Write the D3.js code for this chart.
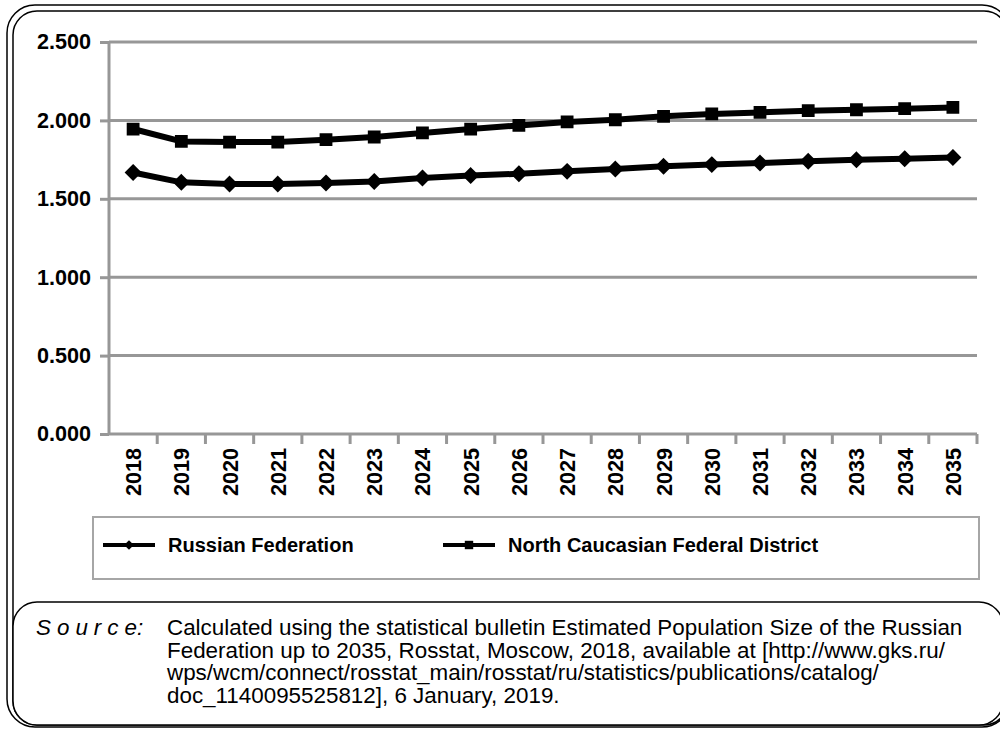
<!DOCTYPE html>
<html>
<head>
<meta charset="utf-8">
<script src="https://cdn.jsdelivr.net/npm/d3@7"></script>
<style>
body { margin: 0; background: #fff; }
svg { display: block; font-family: Arial, "Liberation Sans", sans-serif; }
</style>
</head>
<body>
<svg width="1000" height="729"></svg>
<script>
// chart data
var years = ["2018", "2019", "2020", "2021", "2022", "2023", "2024", "2025", "2026",
             "2027", "2028", "2029", "2030", "2031", "2032", "2033", "2034", "2035"];
var russianFederation = [1.668, 1.605, 1.594, 1.594, 1.601, 1.611, 1.633, 1.648, 1.660,
                         1.675, 1.690, 1.707, 1.718, 1.728, 1.739, 1.749, 1.756, 1.764];
var northCaucasus = [1.945, 1.866, 1.862, 1.862, 1.877, 1.894, 1.920, 1.945, 1.968,
                     1.990, 2.004, 2.026, 2.041, 2.051, 2.062, 2.068, 2.075, 2.083];
var seriesNames = ["Russian Federation", "North Caucasian Federal District"];
var yTicks = [0, 0.5, 1, 1.5, 2, 2.5];
var yTickLabels = ["0.000", "0.500", "1.000", "1.500", "2.000", "2.500"];
var sourceLines = [
  "Calculated using the statistical bulletin Estimated Population Size of the Russian",
  "Federation up to 2035, Rosstat, Moscow, 2018, available at [http://www.gks.ru/",
  "wps/wcm/connect/rosstat_main/rosstat/ru/statistics/publications/catalog/",
  "doc_1140095525812], 6 January, 2019."
];

var svg = d3.select("svg"),
    grid = "#979797",
    margin = {top: 42, right: 23, bottom: 295, left: 109},
    width = +svg.attr("width") - margin.left - margin.right,
    height = +svg.attr("height") - margin.top - margin.bottom,
    g = svg.append("g").attr("transform", "translate(" + margin.left + "," + margin.top + ")");

// outer double frame and the source box
svg.append("rect")
  .attr("x", 7).attr("y", 5).attr("width", 1003).attr("height", 722)
  .attr("rx", 28).attr("fill", "none").attr("stroke", "#000").attr("stroke-width", 1.5);
svg.append("rect")
  .attr("x", 13).attr("y", 11).attr("width", 995).attr("height", 714)
  .attr("rx", 24).attr("fill", "none").attr("stroke", "#000").attr("stroke-width", 1.5);
svg.append("rect")
  .attr("x", 13).attr("y", 602).attr("width", 990).attr("height", 123)
  .attr("rx", 24).attr("fill", "#fff").attr("stroke", "#000").attr("stroke-width", 1.5);

var x = d3.scaleBand()
  .domain(years)
  .range([0, width]);

var y = d3.scaleLinear()
  .domain([0, 2.5])
  .range([height, 0]);

// gridlines
g.append("g")
  .selectAll("line")
  .data(yTicks.slice(1))
  .enter().append("line")
    .attr("x1", 0)
    .attr("x2", width)
    .attr("y1", function(d) { return y(d); })
    .attr("y2", function(d) { return y(d); })
    .attr("stroke", grid)
    .attr("stroke-width", 3);

// y axis
var yAxis = g.append("g")
  .call(d3.axisLeft(y).tickValues(yTicks).tickSize(9)
    .tickFormat(function(d, i) { return yTickLabels[i]; }));
yAxis.select(".domain").attr("stroke", grid).attr("stroke-width", 3)
  .attr("d", "M0," + height + "V0");
yAxis.selectAll(".tick line").attr("stroke", grid).attr("stroke-width", 3);
yAxis.selectAll(".tick text")
  .attr("x", -18)
  .attr("fill", "#000")
  .attr("font-size", 21.6)
  .attr("font-weight", "bold")
  .attr("font-family", "Arial, 'Liberation Sans', sans-serif");

// x axis, ticks on the band edges
var xAxis = g.append("g")
  .attr("transform", "translate(0," + height + ")");
xAxis.append("line")
  .attr("x1", 0).attr("x2", width)
  .attr("stroke", grid).attr("stroke-width", 3);
xAxis.selectAll(".edge")
  .data(years)
  .enter().append("line")
    .attr("class", "edge")
    .attr("x1", function(d) { return x(d) + x.bandwidth(); })
    .attr("x2", function(d) { return x(d) + x.bandwidth(); })
    .attr("y1", 0).attr("y2", 10)
    .attr("stroke", grid).attr("stroke-width", 3);
xAxis.selectAll(".year")
  .data(years)
  .enter().append("text")
    .attr("class", "year")
    .attr("transform", function(d) {
      return "translate(" + (x(d) + x.bandwidth() / 2 + 8) + ",14) rotate(-90)";
    })
    .attr("text-anchor", "end")
    .attr("font-size", 21.6)
    .attr("font-weight", "bold")
    .text(function(d) { return d; });

var line = d3.line()
  .x(function(d, i) { return x(years[i]) + x.bandwidth() / 2; })
  .y(function(d) { return y(d); });

var diamond = d3.symbol().type(d3.symbolDiamond2).size(115);
var square = d3.symbol().type(d3.symbolSquare2).size(135);

function drawSeries(values, sym) {
  g.append("path")
    .datum(values)
    .attr("d", line)
    .attr("fill", "none")
    .attr("stroke", "#000")
    .attr("stroke-width", 6)
    .attr("stroke-linejoin", "round");
  g.append("g")
    .selectAll("path")
    .data(values)
    .enter().append("path")
      .attr("transform", function(d, i) {
        return "translate(" + (x(years[i]) + x.bandwidth() / 2) + "," + y(d) + ")";
      })
      .attr("d", sym)
      .attr("fill", "#000")
      .attr("stroke", "#000")
      .attr("stroke-width", 2.5);
}
drawSeries(russianFederation, diamond);
drawSeries(northCaucasus, square);

// legend
svg.append("rect")
  .attr("x", 93).attr("y", 517).attr("width", 886).attr("height", 62)
  .attr("fill", "none").attr("stroke", "#a6a6a6").attr("stroke-width", 2);

var legend = svg.append("g")
  .selectAll("g")
  .data(seriesNames)
  .enter().append("g")
    .attr("transform", function(d, i) { return "translate(" + (103 + i * 340) + ",545)"; });
legend.append("line")
  .attr("x1", 0).attr("x2", 52)
  .attr("stroke", "#000").attr("stroke-width", 4);
legend.append("path")
  .attr("transform", "translate(26,0)")
  .attr("d", function(d, i) {
    return i == 0 ? d3.symbol().type(d3.symbolDiamond2).size(60)()
                  : d3.symbol().type(d3.symbolSquare2).size(90)();
  })
  .attr("fill", "#000");
legend.append("text")
  .attr("x", 65)
  .attr("dy", "0.35em")
  .attr("font-size", 20)
  .attr("font-weight", "bold")
  .text(function(d) { return d; });

// source note, spaced-out italic label
var src = svg.append("text")
  .attr("x", 36).attr("y", 635)
  .attr("font-size", 22.4)
  .attr("font-style", "italic");
src.append("tspan").attr("letter-spacing", 6).text("Sourc");
src.append("tspan").text("e:");

svg.append("g")
  .selectAll("text")
  .data(sourceLines)
  .enter().append("text")
    .attr("x", 167)
    .attr("y", function(d, i) { return 635 + i * 22.7; })
    .attr("font-size", 22.4)
    .text(function(d) { return d; });
</script>
</body>
</html>
